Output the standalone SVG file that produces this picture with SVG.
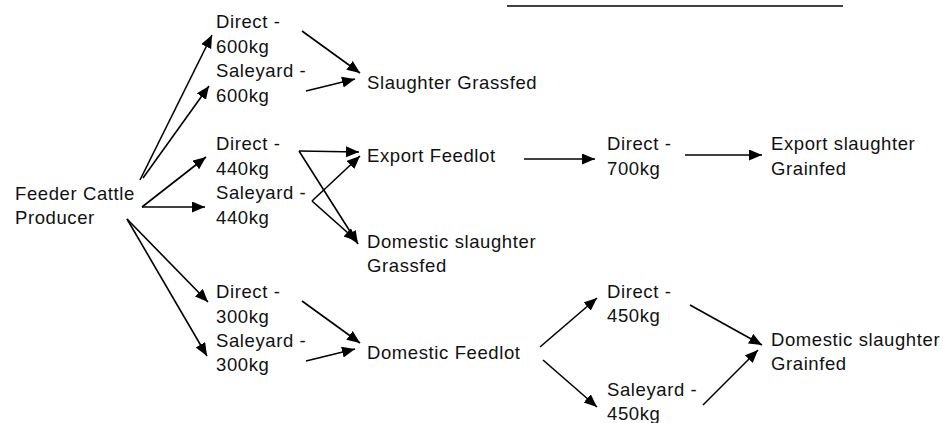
<svg xmlns="http://www.w3.org/2000/svg" width="943" height="423" viewBox="0 0 943 423">
<style>
text{font-family:"Liberation Sans",Arial,sans-serif;font-size:18.5px;letter-spacing:0.6px;fill:#111}
.c line{stroke:#000;stroke-width:1.6;marker-end:url(#ah)}
.rule{stroke:#000;stroke-width:1.5}
</style>
<defs>
<marker id="ah" markerUnits="userSpaceOnUse" markerWidth="14" markerHeight="12" refX="13" refY="5.5" orient="auto">
<path d="M0,0 L13,5.5 L0,11 z" fill="#000"/>
</marker>
</defs>
<rect width="943" height="423" fill="#fff"/>
<line class="rule" x1="507" y1="6" x2="843" y2="6"/>
<g id="producer"><text x="15" y="200">Feeder Cattle</text><text x="15" y="224">Producer</text></g>
<g id="direct600"><text x="216" y="27.5">Direct -</text><text x="216" y="53">600kg</text></g>
<g id="saleyard600"><text x="216" y="77">Saleyard -</text><text x="216" y="101.5">600kg</text></g>
<g id="direct440"><text x="216" y="150">Direct -</text><text x="216" y="175">440kg</text></g>
<g id="saleyard440"><text x="216" y="199">Saleyard -</text><text x="216" y="224">440kg</text></g>
<g id="direct300"><text x="216" y="298">Direct -</text><text x="216" y="323">300kg</text></g>
<g id="saleyard300"><text x="216" y="347">Saleyard -</text><text x="216" y="371">300kg</text></g>
<g id="slaughterGrassfed"><text x="367" y="89">Slaughter Grassfed</text></g>
<g id="exportFeedlot"><text x="367" y="162">Export Feedlot</text></g>
<g id="domesticGrassfed"><text x="367" y="248">Domestic slaughter</text><text x="367" y="272">Grassfed</text></g>
<g id="domesticFeedlot"><text x="367" y="359">Domestic Feedlot</text></g>
<g id="direct700"><text x="607" y="150">Direct -</text><text x="607" y="175">700kg</text></g>
<g id="exportGrainfed"><text x="771" y="150">Export slaughter</text><text x="771" y="175">Grainfed</text></g>
<g id="direct450"><text x="607" y="298">Direct -</text><text x="607" y="322">450kg</text></g>
<g id="saleyard450"><text x="607" y="396">Saleyard -</text><text x="607" y="420">450kg</text></g>
<g id="domesticGrainfed"><text x="771" y="346">Domestic slaughter</text><text x="771" y="370">Grainfed</text></g>
<g id="connectors" class="c">
<line x1="140" y1="180" x2="212" y2="35"/>
<line x1="143" y1="178" x2="209" y2="86"/>
<line x1="142" y1="207" x2="206" y2="157"/>
<line x1="142" y1="207" x2="205" y2="207"/>
<line x1="127" y1="219" x2="208" y2="302"/>
<line x1="127" y1="219" x2="207" y2="356"/>
<line x1="302" y1="31" x2="360" y2="73"/>
<line x1="306" y1="91" x2="355" y2="79"/>
<line x1="299" y1="151" x2="359" y2="152"/>
<line x1="299" y1="151" x2="358" y2="244"/>
<line x1="312" y1="201" x2="360" y2="156"/>
<line x1="312" y1="201" x2="357" y2="241"/>
<line x1="524" y1="159" x2="595" y2="159"/>
<line x1="685" y1="155" x2="762" y2="155"/>
<line x1="302" y1="301" x2="360" y2="343"/>
<line x1="306" y1="361" x2="355" y2="349"/>
<line x1="540" y1="347" x2="597" y2="298"/>
<line x1="543" y1="360" x2="597" y2="407"/>
<line x1="690" y1="305" x2="762" y2="345"/>
<line x1="703" y1="405" x2="758" y2="350"/>
</g>
</svg>
